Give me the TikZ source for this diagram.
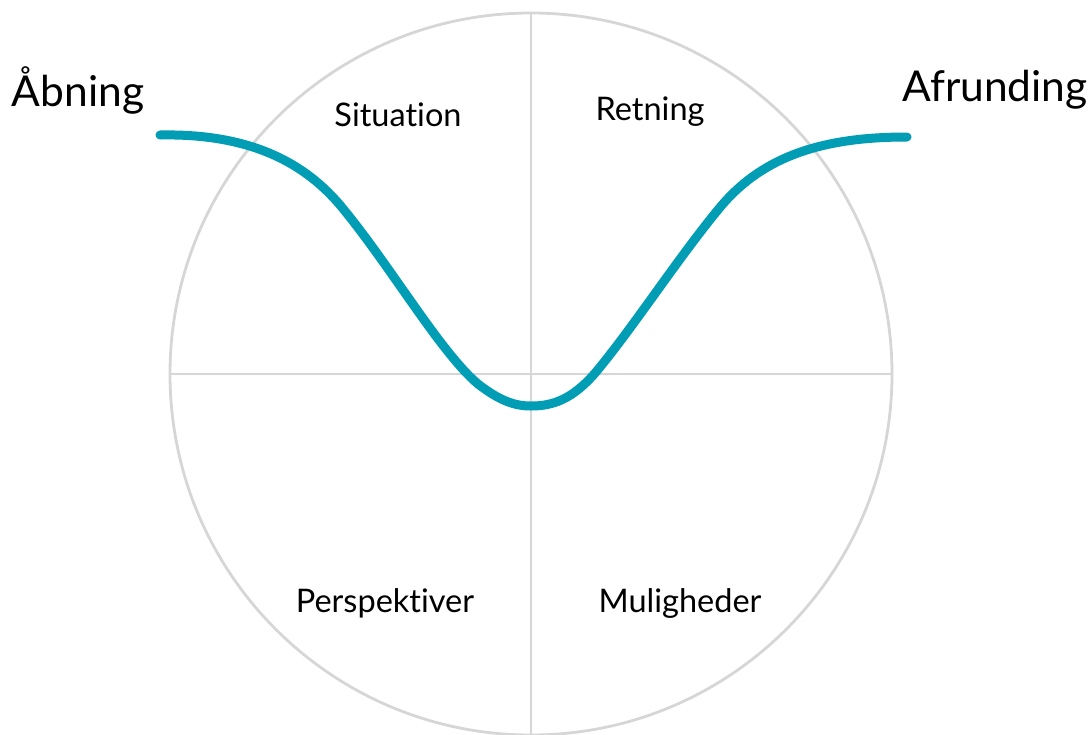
\documentclass[tikz,border=0pt]{standalone}
\usepackage{fontspec}
\setmainfont{Lato}[Ligatures=NoCommon]
\definecolor{ringgray}{RGB}{214,214,214}
\definecolor{flowteal}{RGB}{0,157,181}
\begin{document}
\begin{tikzpicture}[x=1pt,y=-1pt,
  ring/.style={draw=ringgray,line width=2.8pt},
  flow/.style={draw=flowteal,line width=9pt,line cap=round},
  quadlabel/.style={font=\fontsize{32.5}{36}\selectfont,text=black,inner sep=0pt},
  endlabel/.style={font=\fontsize{42.5}{48}\selectfont,text=black,inner sep=0pt}]
  \useasboundingbox (0,0) rectangle (1092,734);
  % outer ring split into four quadrants
  \node[ring,circle,minimum size=722pt,inner sep=0pt] (ring) at (531,374) {};
  \draw[ring] (ring.north) -- (ring.south);
  \draw[ring] (ring.west) -- (ring.east);
  % process curve from opening to closing
  \coordinate (start) at (160,135);
  \coordinate (dip) at (531,406);
  \coordinate (stop) at (907,137);
  \draw[flow] (start) .. controls (260,133) and (310,170) .. (340,205)
    .. controls (390,265) and (440,352) .. (478,384)
    .. controls (500,401) and (515,406) .. (dip)
    .. controls (552,406) and (572,400) .. (596,372)
    .. controls (635,325) and (680,255) .. (722,205)
    .. controls (765,155) and (825,137) .. (stop);
  % labels
  \node[endlabel] (open) at (78,90) {Åbning};
  \node[endlabel] (close) at (995,90) {Afrunding};
  \node[quadlabel] (sit) at (398,115) {Situation};
  \node[quadlabel] (ret) at (650,112) {Retning};
  \node[quadlabel] (per) at (385,603) {Perspektiver};
  \node[quadlabel] (mul) at (680,603) {Muligheder};
\end{tikzpicture}
\end{document}
